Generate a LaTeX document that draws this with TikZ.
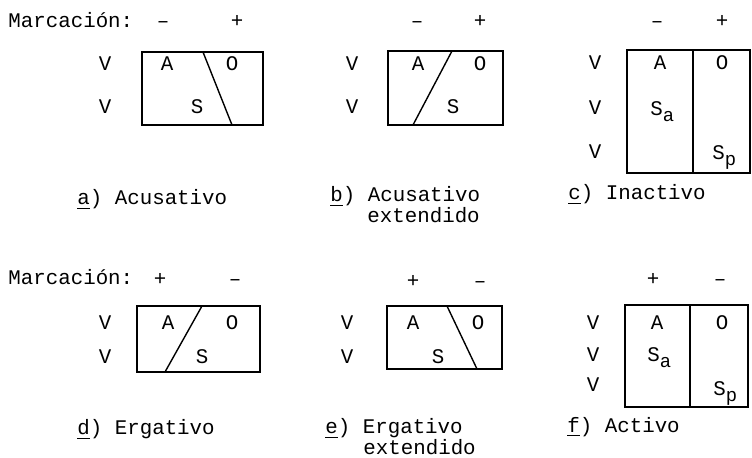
\documentclass[tikz,border=0pt]{standalone}
\usepackage{fontspec}
\setmonofont{Liberation Mono}
\newcommand\lowsub[1]{\raisebox{-0.5ex}{\fontsize{9.4}{10}\selectfont #1}}
\begin{document}
\begin{tikzpicture}[x=0.5pt,y=-0.5pt,
  every node/.style={font=\fontsize{10.4}{12}\selectfont\ttfamily, inner sep=0pt, anchor=base},
  frame/.style={line width=0.7pt},
  lbl/.style={anchor=base west}]
\useasboundingbox (0,0) rectangle (752,458);

% ---------- top row ----------
\node[lbl] (mt) at (8,28) {Marcación:};
% a
\node (am) at (163,28) {–};
\node (ap) at (237,28) {+};
\draw[frame] (142,52) rectangle (263,125);
\coordinate (a1) at (203,52); \coordinate (a2) at (232,125);
\draw[frame] (a1) -- (a2);
\node (av1) at (105,71) {V};
\node (av2) at (105,114) {V};
\node (aA) at (167,71) {A};
\node (aO) at (232,71) {O};
\node (aS) at (197,114) {S};
\node[lbl] (ac) at (77,205) {\underline{a}) Acusativo};
% b
\node (bm) at (417,28) {–};
\node (bp) at (480,28) {+};
\draw[frame] (388,51) rectangle (503,125);
\coordinate (b1) at (452,51); \coordinate (b2) at (413,125);
\draw[frame] (b1) -- (b2);
\node (bv1) at (352,71) {V};
\node (bv2) at (352,114) {V};
\node (bA) at (418,71) {A};
\node (bO) at (480,71) {O};
\node (bS) at (453,114) {S};
\node[lbl] (bc1) at (330,202) {\underline{b}) Acusativo};
\node[lbl] (bc2) at (367,223) {extendido};
% c
\node (cm) at (657,28) {–};
\node (cp) at (722,28) {+};
\draw[frame] (627,50) rectangle (750,173);
\coordinate (c1) at (693,50); \coordinate (c2) at (693,173);
\draw[frame] (c1) -- (c2);
\node (cv1) at (595,70) {V};
\node (cv2) at (595,115) {V};
\node (cv3) at (595,159) {V};
\node (cA) at (660,70) {A};
\node (cO) at (722,70) {O};
\node[lbl] (cSa) at (650,116) {S\lowsub{a}};
\node[lbl] (cSp) at (712,160) {S\lowsub{p}};
\node[lbl] (cc) at (568,200) {\underline{c}) Inactivo};

% ---------- bottom row ----------
\node[lbl] (mb) at (8,285) {Marcación:};
% d
\node (dp) at (160,286) {+};
\node (dm) at (235,286) {–};
\draw[frame] (137,306) rectangle (260,372);
\coordinate (d1) at (202,306); \coordinate (d2) at (165,372);
\draw[frame] (d1) -- (d2);
\node (dv1) at (105,330) {V};
\node (dv2) at (105,364) {V};
\node (dA) at (168,330) {A};
\node (dO) at (232,330) {O};
\node (dS) at (202,364) {S};
\node[lbl] (dc) at (77,435) {\underline{d}) Ergativo};
% e
\node (ep) at (413,288) {+};
\node (em) at (480,288) {–};
\draw[frame] (387,306) rectangle (502,369);
\coordinate (e1) at (447,306); \coordinate (e2) at (477,369);
\draw[frame] (e1) -- (e2);
\node (ev1) at (347,330) {V};
\node (ev2) at (347,364) {V};
\node (eA) at (413,330) {A};
\node (eO) at (478,330) {O};
\node (eS) at (438,364) {S};
\node[lbl] (ec1) at (325,434) {\underline{e}) Ergativo};
\node[lbl] (ec2) at (363,455) {extendido};
% f
\node (fp) at (653,286) {+};
\node (fm) at (720,286) {–};
\draw[frame] (625,305) rectangle (748,407);
\coordinate (f1) at (690,305); \coordinate (f2) at (690,407);
\draw[frame] (f1) -- (f2);
\node (fv1) at (593,330) {V};
\node (fv2) at (593,362) {V};
\node (fv3) at (593,392) {V};
\node (fA) at (657,330) {A};
\node (fO) at (722,330) {O};
\node[lbl] (fSa) at (647,362) {S\lowsub{a}};
\node[lbl] (fSp) at (713,396) {S\lowsub{p}};
\node[lbl] (fc) at (567,433) {\underline{f}) Activo};
\end{tikzpicture}
\end{document}
